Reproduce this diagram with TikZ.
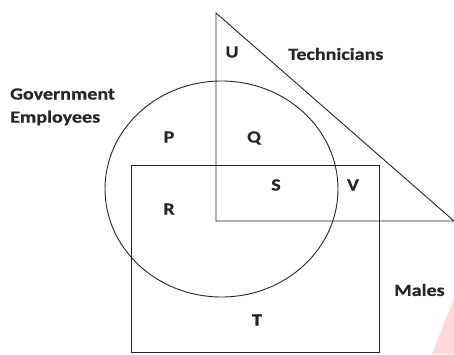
\documentclass[tikz,border=0pt]{standalone}
\usepackage{fontspec}
\setmainfont{Carlito}
\newfontfamily\lblfont{Carlito}[FakeStretch=1.18,BoldFeatures={FakeStretch=1.18,FakeBold=0.6}]
\begin{document}
\begin{tikzpicture}[x=1pt,y=-1pt,
  shape line/.style={draw=black!85,line width=0.9pt},
  lbl/.style={font=\lblfont\bfseries\fontsize{17}{20}\selectfont,text=black!85,inner sep=0pt},
  setname/.style={font=\lblfont\bfseries\fontsize{17}{20}\selectfont,text=black!85,inner sep=0pt,align=left}]
\useasboundingbox (0,0) rectangle (454,354);
\fill[white] (0,0) rectangle (454,354);
\fill[red!15] (432,354) -- (454,298) -- (454,354) -- cycle;
% Triangle (Technicians)
\coordinate (apex) at (216,13);
\coordinate (corner) at (216,221);
\coordinate (tip) at (454,221);
\draw[shape line] (apex) -- (corner) -- (tip) -- cycle;
% Circle (Government Employees)
\draw[shape line] (221.5,189) ellipse [x radius=116.5, y radius=108];
% Rectangle (Males)
\draw[shape line] (131,165) rectangle (379,352);
% Labels
\node[lbl] (U) at (232,52) {U};
\node[lbl] (P) at (169,137) {P};
\node[lbl] (Q) at (254,138) {Q};
\node[lbl] (S) at (276,185) {S};
\node[lbl] (V) at (353,185) {V};
\node[lbl] (R) at (169,209) {R};
\node[lbl] (T) at (257,320) {T};
\node[setname,anchor=west] (tech) at (288,54) {Technicians};
\node[setname,anchor=west] (gov) at (10,94) {Government};
\node[setname,anchor=west] (emp) at (10,118) {Employees};
\node[setname,anchor=west] (males) at (394,290) {Males};
\end{tikzpicture}
\end{document}
